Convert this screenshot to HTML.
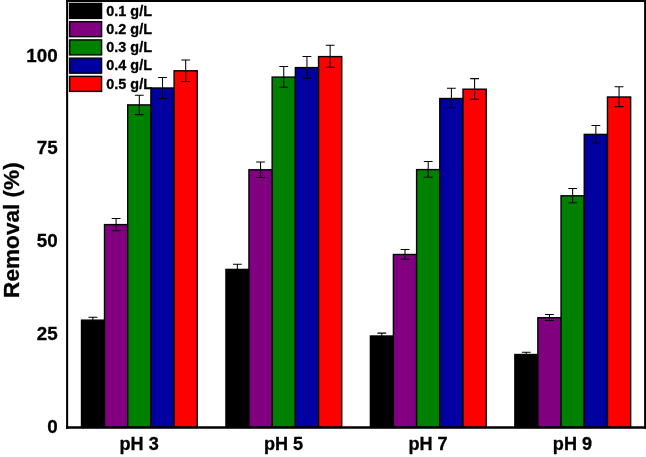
<!DOCTYPE html>
<html><head><meta charset="utf-8"><title>Removal chart</title>
<style>
html,body{margin:0;padding:0;background:#fff;}
svg{display:block;}
text{font-family:"Liberation Sans",Arial,sans-serif;font-weight:bold;fill:#000;stroke:#000;stroke-width:0.3px;stroke-linejoin:round;}
</style></head><body>
<svg width="646" height="457" viewBox="0 0 646 457">
<rect x="0" y="0" width="646" height="457" fill="#fff"/>

<rect x="81.50" y="320.15" width="23.00" height="107.25" fill="#000000" stroke="#000" stroke-width="1.4"/>
<rect x="104.50" y="224.60" width="23.20" height="202.80" fill="#800080" stroke="#000" stroke-width="1.4"/>
<rect x="127.70" y="104.90" width="23.20" height="322.50" fill="#008000" stroke="#000" stroke-width="1.4"/>
<rect x="150.90" y="88.00" width="23.20" height="339.40" fill="#0000A0" stroke="#000" stroke-width="1.4"/>
<rect x="174.10" y="70.80" width="23.20" height="356.60" fill="#FF0000" stroke="#000" stroke-width="1.4"/>
<path d="M92.90 317.20V323.00M88.50 317.20h8.8M88.50 323.00h8.8" stroke="#000" stroke-width="1.05" fill="none"/>
<path d="M116.10 218.50V230.70M111.70 218.50h8.8M111.70 230.70h8.8" stroke="#000" stroke-width="1.05" fill="none"/>
<path d="M139.30 95.20V114.60M134.90 95.20h8.8M134.90 114.60h8.8" stroke="#000" stroke-width="1.05" fill="none"/>
<path d="M162.50 77.40V98.40M158.10 77.40h8.8M158.10 98.40h8.8" stroke="#000" stroke-width="1.05" fill="none"/>
<path d="M185.70 60.00V81.40M181.30 60.00h8.8M181.30 81.40h8.8" stroke="#000" stroke-width="1.05" fill="none"/>
<rect x="225.95" y="269.40" width="23.00" height="158.00" fill="#000000" stroke="#000" stroke-width="1.4"/>
<rect x="248.95" y="169.80" width="23.20" height="257.60" fill="#800080" stroke="#000" stroke-width="1.4"/>
<rect x="272.15" y="77.10" width="23.20" height="350.30" fill="#008000" stroke="#000" stroke-width="1.4"/>
<rect x="295.35" y="67.60" width="23.20" height="359.80" fill="#0000A0" stroke="#000" stroke-width="1.4"/>
<rect x="318.55" y="56.60" width="23.20" height="370.80" fill="#FF0000" stroke="#000" stroke-width="1.4"/>
<path d="M237.35 264.20V274.00M232.95 264.20h8.8M232.95 274.00h8.8" stroke="#000" stroke-width="1.05" fill="none"/>
<path d="M260.55 162.00V177.40M256.15 162.00h8.8M256.15 177.40h8.8" stroke="#000" stroke-width="1.05" fill="none"/>
<path d="M283.75 66.40V87.20M279.35 66.40h8.8M279.35 87.20h8.8" stroke="#000" stroke-width="1.05" fill="none"/>
<path d="M306.95 56.50V78.10M302.55 56.50h8.8M302.55 78.10h8.8" stroke="#000" stroke-width="1.05" fill="none"/>
<path d="M330.15 45.30V67.30M325.75 45.30h8.8M325.75 67.30h8.8" stroke="#000" stroke-width="1.05" fill="none"/>
<rect x="370.40" y="336.00" width="23.00" height="91.40" fill="#000000" stroke="#000" stroke-width="1.4"/>
<rect x="393.40" y="254.50" width="23.20" height="172.90" fill="#800080" stroke="#000" stroke-width="1.4"/>
<rect x="416.60" y="169.60" width="23.20" height="257.80" fill="#008000" stroke="#000" stroke-width="1.4"/>
<rect x="439.80" y="98.50" width="23.20" height="328.90" fill="#0000A0" stroke="#000" stroke-width="1.4"/>
<rect x="463.00" y="89.20" width="23.20" height="338.20" fill="#FF0000" stroke="#000" stroke-width="1.4"/>
<path d="M381.80 333.10V339.00M377.40 333.10h8.8M377.40 339.00h8.8" stroke="#000" stroke-width="1.05" fill="none"/>
<path d="M405.00 249.40V259.20M400.60 249.40h8.8M400.60 259.20h8.8" stroke="#000" stroke-width="1.05" fill="none"/>
<path d="M428.20 161.50V177.30M423.80 161.50h8.8M423.80 177.30h8.8" stroke="#000" stroke-width="1.05" fill="none"/>
<path d="M451.40 88.20V107.80M447.00 88.20h8.8M447.00 107.80h8.8" stroke="#000" stroke-width="1.05" fill="none"/>
<path d="M474.60 78.60V99.20M470.20 78.60h8.8M470.20 99.20h8.8" stroke="#000" stroke-width="1.05" fill="none"/>
<rect x="514.85" y="354.50" width="23.00" height="72.90" fill="#000000" stroke="#000" stroke-width="1.4"/>
<rect x="537.85" y="317.70" width="23.20" height="109.70" fill="#800080" stroke="#000" stroke-width="1.4"/>
<rect x="561.05" y="195.80" width="23.20" height="231.60" fill="#008000" stroke="#000" stroke-width="1.4"/>
<rect x="584.25" y="134.40" width="23.20" height="293.00" fill="#0000A0" stroke="#000" stroke-width="1.4"/>
<rect x="607.45" y="97.00" width="23.20" height="330.40" fill="#FF0000" stroke="#000" stroke-width="1.4"/>
<path d="M526.25 352.30V357.00M521.85 352.30h8.8M521.85 357.00h8.8" stroke="#000" stroke-width="1.05" fill="none"/>
<path d="M549.45 314.40V320.40M545.05 314.40h8.8M545.05 320.40h8.8" stroke="#000" stroke-width="1.05" fill="none"/>
<path d="M572.65 188.40V202.80M568.25 188.40h8.8M568.25 202.80h8.8" stroke="#000" stroke-width="1.05" fill="none"/>
<path d="M595.85 125.40V142.90M591.45 125.40h8.8M591.45 142.90h8.8" stroke="#000" stroke-width="1.05" fill="none"/>
<path d="M619.05 86.80V106.60M614.65 86.80h8.8M614.65 106.60h8.8" stroke="#000" stroke-width="1.05" fill="none"/>
<path d="M67.12 0V428.7" stroke="#000" stroke-width="2.05" fill="none"/><path d="M645.05 0V428.7" stroke="#000" stroke-width="1.9" fill="none"/>
<path d="M66 0.95H646" stroke="#000" stroke-width="2.3" fill="none"/>
<path d="M66.1 427.5H646" stroke="#000" stroke-width="2.4" fill="none"/>
<rect x="69.6" y="3.40" width="32" height="15" fill="#000000" stroke="#000" stroke-width="1.4"/>
<text transform="translate(106.3,16.10) scale(1.045,1)" font-size="13.8">0.1 g/L</text>
<rect x="69.6" y="21.65" width="32" height="15" fill="#800080" stroke="#000" stroke-width="1.4"/>
<text transform="translate(106.3,34.22) scale(1.045,1)" font-size="13.8">0.2 g/L</text>
<rect x="69.6" y="39.90" width="32" height="15" fill="#008000" stroke="#000" stroke-width="1.4"/>
<text transform="translate(106.3,52.34) scale(1.045,1)" font-size="13.8">0.3 g/L</text>
<rect x="69.6" y="58.15" width="32" height="15" fill="#0000A0" stroke="#000" stroke-width="1.4"/>
<text transform="translate(106.3,70.46) scale(1.045,1)" font-size="13.8">0.4 g/L</text>
<rect x="69.6" y="76.40" width="32" height="15" fill="#FF0000" stroke="#000" stroke-width="1.4"/>
<text transform="translate(106.3,88.58) scale(1.045,1)" font-size="13.8">0.5 g/L</text>
<text x="57.6" y="432.70" font-size="18.8" text-anchor="end">0</text>
<text x="57.6" y="339.93" font-size="18.8" text-anchor="end">25</text>
<text x="57.6" y="247.15" font-size="18.8" text-anchor="end">50</text>
<text x="57.6" y="154.38" font-size="18.8" text-anchor="end">75</text>
<text x="57.6" y="61.60" font-size="18.8" text-anchor="end">100</text>
<text x="139.10" y="450.4" font-size="18.1" text-anchor="middle">pH 3</text>
<text x="283.55" y="450.4" font-size="18.1" text-anchor="middle">pH 5</text>
<text x="428.00" y="450.4" font-size="18.1" text-anchor="middle">pH 7</text>
<text x="572.45" y="450.4" font-size="18.1" text-anchor="middle">pH 9</text>
<text transform="translate(18.7,230.1) rotate(-90)" font-size="22.6" text-anchor="middle">Removal (%)</text>
</svg></body></html>
